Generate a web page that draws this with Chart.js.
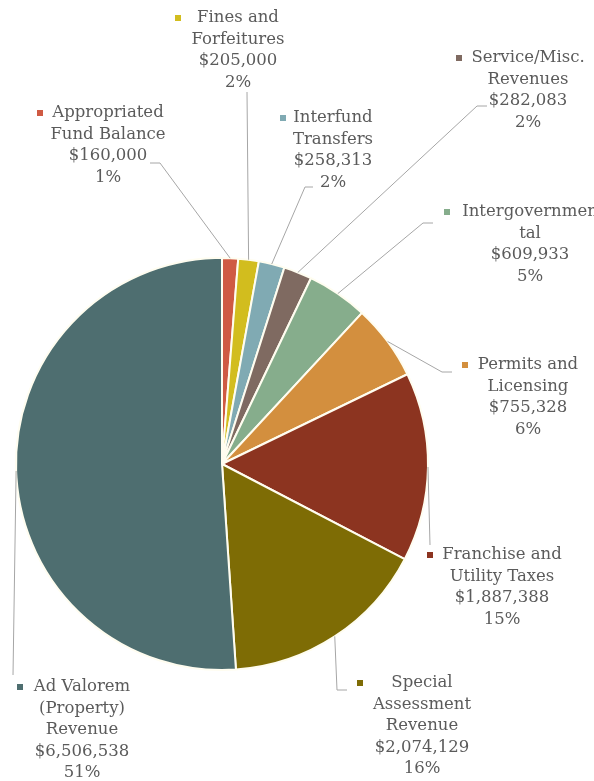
<!DOCTYPE html>
<html>
<head>
<meta charset="utf-8">
<script src="https://cdn.jsdelivr.net/npm/chart.js@4.4.1/dist/chart.umd.min.js"></script>
<style>
  html, body { margin: 0; padding: 0; background: #ffffff; }
  #wrap { position: relative; width: 594px; height: 781px; }
</style>
</head>
<body>
<div id="wrap"><canvas id="c"></canvas></div>
<script>
// ---- data ----
const categories = [
  ["Appropriated", "Fund Balance"],
  ["Fines and", "Forfeitures"],
  ["Interfund", "Transfers"],
  ["Service/Misc.", "Revenues"],
  ["Intergovernmen", "tal"],
  ["Permits and", "Licensing"],
  ["Franchise and", "Utility Taxes"],
  ["Special", "Assessment", "Revenue"],
  ["Ad Valorem", "(Property)", "Revenue"]
];
const revenueValues = [160000, 205000, 258313, 282083, 609933, 755328, 1887388, 2074129, 6506538];
const sliceColors = ["#cf5a43", "#d2bd1e", "#80aab3", "#7f6a61", "#86ad8c", "#d38f3e", "#8c3420", "#7e6c05", "#4e6e70"];

// ---- label layout (positions only, not data) ----
const labelLayout = [
  { cx: 108, y: 113, mx: 40,  leader: [[160,163],[150,163]] },
  { cx: 238, y: 18,  mx: 178, leader: [[247,92]] },
  { cx: 333, y: 118, mx: 283, leader: [[305,187],[313,187]] },
  { cx: 528, y: 58,  mx: 459, leader: [[477,106],[487,106]] },
  { cx: 530, y: 212, mx: 447, leader: [[423,223],[433,223]] },
  { cx: 528, y: 365, mx: 465, leader: [[442,372],[452,372]] },
  { cx: 502, y: 555, mx: 430, leader: [[430,545]] },
  { cx: 422, y: 683, mx: 360, leader: [[337,690],[347,690]] },
  { cx: 82,  y: 687, mx: 20,  leader: [[13,675]] }
];
const LINE_H = 21.5;
const FONT = '16.5px "DejaVu Serif", "Liberation Serif", serif';
const TEXT_COLOR = '#5b5b5b';
const LEADER_COLOR = '#a6a6a6';

const calloutPlugin = {
  id: 'callouts',
  afterDatasetsDraw(chart) {
    const ctx = chart.ctx;
    const meta = chart.getDatasetMeta(0);
    const data = chart.data.datasets[0].data;
    const total = data.reduce((a, b) => a + b, 0);
    ctx.save();
    meta.data.forEach((arc, i) => {
      const p = arc.getProps(['x', 'y', 'startAngle', 'endAngle', 'outerRadius'], true);
      const mid = (p.startAngle + p.endAngle) / 2;
      const ax = p.x + Math.cos(mid) * p.outerRadius;
      const ay = p.y + Math.sin(mid) * p.outerRadius;
      const L = labelLayout[i];
      // leader line
      ctx.beginPath();
      ctx.strokeStyle = LEADER_COLOR;
      ctx.lineWidth = 1;
      ctx.moveTo(ax, ay);
      L.leader.forEach(pt => ctx.lineTo(pt[0], pt[1]));
      ctx.stroke();
      // text
      const lines = chart.data.labels[i].slice();
      lines.push('$' + data[i].toLocaleString('en-US'));
      lines.push(Math.round(data[i] / total * 100) + '%');
      ctx.font = FONT;
      ctx.fillStyle = TEXT_COLOR;
      ctx.textAlign = 'center';
      ctx.textBaseline = 'middle';
      lines.forEach((t, k) => ctx.fillText(t, L.cx, L.y + k * LINE_H));
      // marker
      ctx.fillStyle = sliceColors[i];
      ctx.fillRect(L.mx - 3, L.y - 3, 6, 6);
    });
    ctx.restore();
  }
};

new Chart(document.getElementById('c'), {
  type: 'pie',
  data: {
    labels: categories,
    datasets: [{
      data: revenueValues,
      backgroundColor: sliceColors,
      borderColor: '#fffdf0',
      borderWidth: 2
    }]
  },
  options: {
    responsive: true,
    maintainAspectRatio: false,
    animation: false,
    layout: { padding: { left: 15, right: 165, top: 257, bottom: 110 } },
    plugins: {
      legend: { display: false },
      tooltip: { enabled: false }
    }
  },
  plugins: [calloutPlugin]
});
</script>
</body>
</html>
